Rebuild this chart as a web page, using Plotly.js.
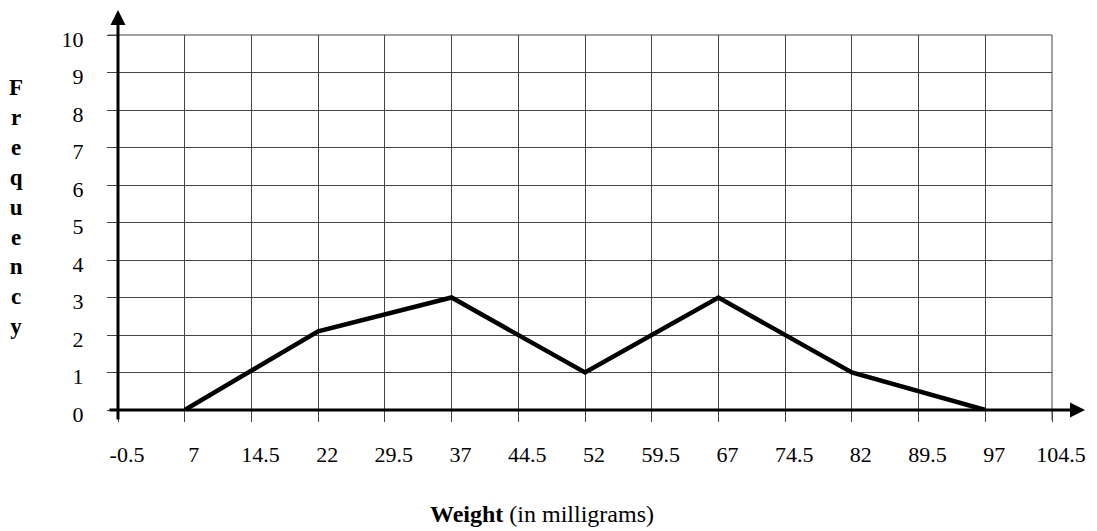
<!DOCTYPE html>
<html>
<head>
<meta charset="utf-8">
<script src="https://cdn.plot.ly/plotly-3.0.1.min.js"></script>
<style>html,body{margin:0;padding:0;background:#fff;}#chart{width:1097px;height:531px;}</style>
</head>
<body>
<div id="chart"></div>
<script>
// Data
const weights = [7, 22, 37, 52, 67, 82, 97];
const frequency = [0, 2.1, 3, 1, 3, 1, 0];
const xTickVals = [-0.5, 7, 14.5, 22, 29.5, 37, 44.5, 52, 59.5, 67, 74.5, 82, 89.5, 97, 104.5];
const xTickText = ["-0.5", "7", "14.5", "22", "29.5", "37", "44.5", "52", "59.5", "67", "74.5", "82", "89.5", "97", "104.5"];
const yTickVals = [0, 1, 2, 3, 4, 5, 6, 7, 8, 9, 10];
const xTitleBold = "Weight";
const xTitleRest = " (in milligrams)";
const yTitleLetters = ["F", "r", "e", "q", "u", "e", "n", "c", "y"];

const serif = "'Liberation Serif', 'Times New Roman', serif";

const trace = {
  x: weights, y: frequency, type: 'scatter', mode: 'lines',
  line: {color: '#000', width: 4.5},
  hoverinfo: 'skip', cliponaxis: false
};

const W = 1097, H = 531;
const margin = {l: 118, r: 45, t: 35, b: 121, pad: 0};
const plotW = W - margin.l - margin.r, plotH = H - margin.t - margin.b;
const px2x = p => (p - margin.l) / plotW;
const py2y = p => (margin.t + plotH - p) / plotH;

const layout = {
  width: W, height: H, margin: margin,
  paper_bgcolor: '#fff', plot_bgcolor: '#fff',
  showlegend: false,
  font: {family: serif, color: '#000', size: 22},
  xaxis: {
    range: [-0.5, 104.5], tickvals: xTickVals, ticktext: xTickText,
    showgrid: true, gridcolor: '#444', gridwidth: 1,
    zeroline: false, showline: false,
    ticks: 'outside', ticklen: 11, tickcolor: '#444', tickwidth: 1,
    ticklabelshift: 9, ticklabelstandoff: 14,
    tickfont: {family: serif, size: 22, color: '#000'}, fixedrange: true
  },
  yaxis: {
    range: [0, 10], tickvals: yTickVals,
    showgrid: true, gridcolor: '#444', gridwidth: 1,
    zeroline: false, showline: false,
    ticks: 'outside', ticklen: 10, tickcolor: '#444', tickwidth: 1,
    ticklabelstandoff: 19, ticklabelshift: 4,
    tickfont: {family: serif, size: 22, color: '#000'}, fixedrange: true
  },
  shapes: [
    {type: 'line', xref: 'paper', yref: 'paper', x0: 1, x1: 1, y0: -10/plotH, y1: 1, line: {color: '#444', width: 1}},
    {type: 'line', xref: 'paper', yref: 'paper', x0: -10/plotW, x1: 1, y0: 1, y1: 1, line: {color: '#444', width: 1}}
  ],
  annotations: [
    // x-axis arrow
    {xref: 'paper', yref: 'y', x: px2x(1085), y: 0, ax: -(1085 - 108), ay: 0,
     text: '', showarrow: true, arrowhead: 2, arrowwidth: 3, arrowsize: 1, arrowcolor: '#000', standoff: 0},
    // y-axis arrow
    {xref: 'x', yref: 'paper', x: -0.5, y: py2y(10), ax: 0, ay: (421 - 10),
     text: '', showarrow: true, arrowhead: 2, arrowwidth: 3, arrowsize: 1, arrowcolor: '#000', standoff: 0},
    // y title
    {xref: 'paper', yref: 'paper', x: px2x(16), y: py2y(207),
     xanchor: 'center', yanchor: 'middle', showarrow: false, align: 'center',
     text: '<b>' + yTitleLetters.join('<br>') + '</b>',
     font: {family: serif, size: 23, color: '#000'}},
    // x title
    {xref: 'paper', yref: 'paper', x: px2x(542), y: py2y(514),
     xanchor: 'center', yanchor: 'middle', showarrow: false,
     text: '<b>' + xTitleBold + '</b>' + xTitleRest,
     font: {family: serif, size: 24, color: '#000'}}
  ]
};

Plotly.newPlot('chart', [trace], layout, {displayModeBar: false, staticPlot: true});
</script>
</body>
</html>
